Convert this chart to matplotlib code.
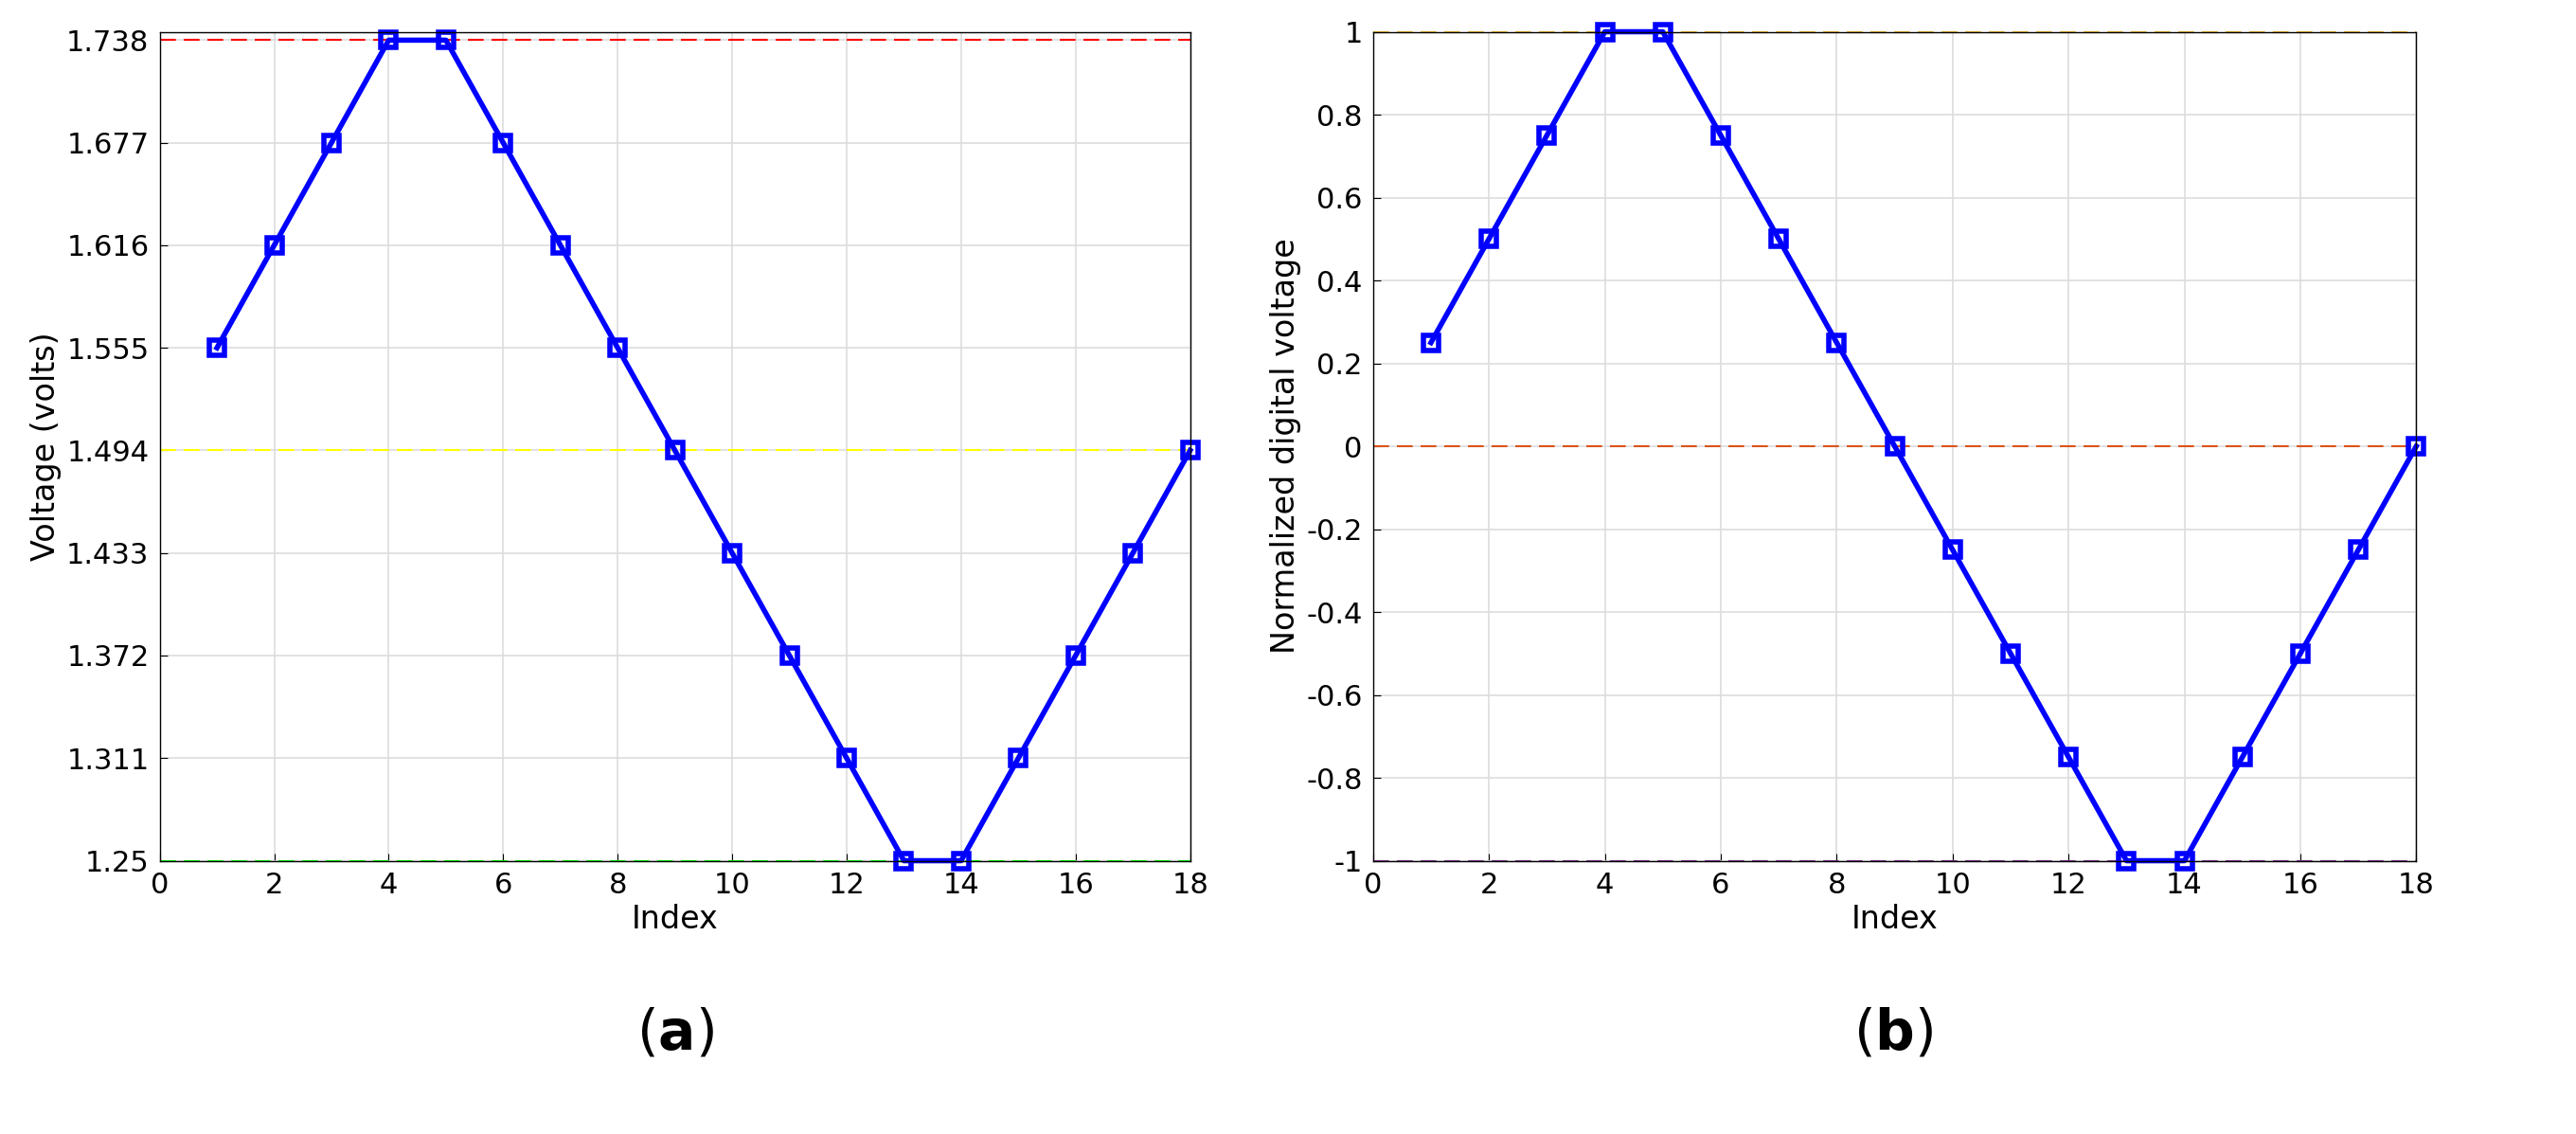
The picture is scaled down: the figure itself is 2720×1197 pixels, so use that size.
import numpy as np
import matplotlib
matplotlib.use("Agg")
import matplotlib.pyplot as plt

index = np.arange(1, 19)
volts = [1.555, 1.616, 1.677, 1.738, 1.738, 1.677, 1.616, 1.555, 1.494,
         1.433, 1.372, 1.311, 1.25, 1.25, 1.311, 1.372, 1.433, 1.494]
norm = [0.25, 0.5, 0.75, 1, 1, 0.75, 0.5, 0.25, 0,
        -0.25, -0.5, -0.75, -1, -1, -0.75, -0.5, -0.25, 0]
volt_ticks = [1.25, 1.311, 1.372, 1.433, 1.494, 1.555, 1.616, 1.677, 1.738]
norm_ticks = [-1, -0.8, -0.6, -0.4, -0.2, 0, 0.2, 0.4, 0.6, 0.8, 1]
volt_refs = [(1.738, '#ff0000'), (1.494, '#ffff00'), (1.25, '#00ff00')]
norm_refs = [(1, '#edb120'), (0, '#d95319'), (-1, '#7e2f8e')]

fig = plt.figure(figsize=(27.2, 11.97), dpi=100)
ax1 = fig.add_axes([0.062, 0.241, 0.400, 0.731])
ax2 = fig.add_axes([0.533, 0.241, 0.405, 0.731])


def style(ax):
    ax.set_xlim(0, 18)
    ax.set_xticks(range(0, 19, 2))
    ax.grid(True, color='#dddddd', linewidth=1.2)
    ax.set_axisbelow(True)
    ax.tick_params(labelsize=22, direction='in', length=6, pad=8)
    for s in ax.spines.values():
        s.set_linewidth(1.0)
    ax.set_xlabel('Index', fontsize=24)


for y, c in volt_refs:
    ax1.axhline(y, color=c, linestyle=(0, (8, 4)), linewidth=1.5, clip_on=False)
ax1.plot(index, volts, '-s', color='#0000ff', linewidth=4, markersize=12,
         markerfacecolor='none', markeredgewidth=4, clip_on=False)
style(ax1)
ax1.set_ylim(1.25, 1.738 + 0.005)
ax1.set_yticks(volt_ticks)
ax1.set_yticklabels([f'{t:g}' for t in volt_ticks])
ax1.set_ylabel('Voltage (volts)', fontsize=24)

for y, c in norm_refs:
    ax2.axhline(y, color=c, linestyle=(0, (8, 4)), linewidth=1.5, clip_on=False)
ax2.plot(index, norm, '-s', color='#0000ff', linewidth=4, markersize=12,
         markerfacecolor='none', markeredgewidth=4, clip_on=False)
style(ax2)
ax2.set_ylim(-1, 1)
ax2.set_yticks(norm_ticks)
ax2.set_yticklabels([f'{t:g}' for t in norm_ticks])
ax2.set_ylabel('Normalized digital voltage', fontsize=24)

fig.text(0.262, 0.075, r'($\mathbf{a}$)', fontsize=42, ha='center')
fig.text(0.735, 0.075, r'($\mathbf{b}$)', fontsize=42, ha='center')

fig.savefig('out.png', dpi=100)
